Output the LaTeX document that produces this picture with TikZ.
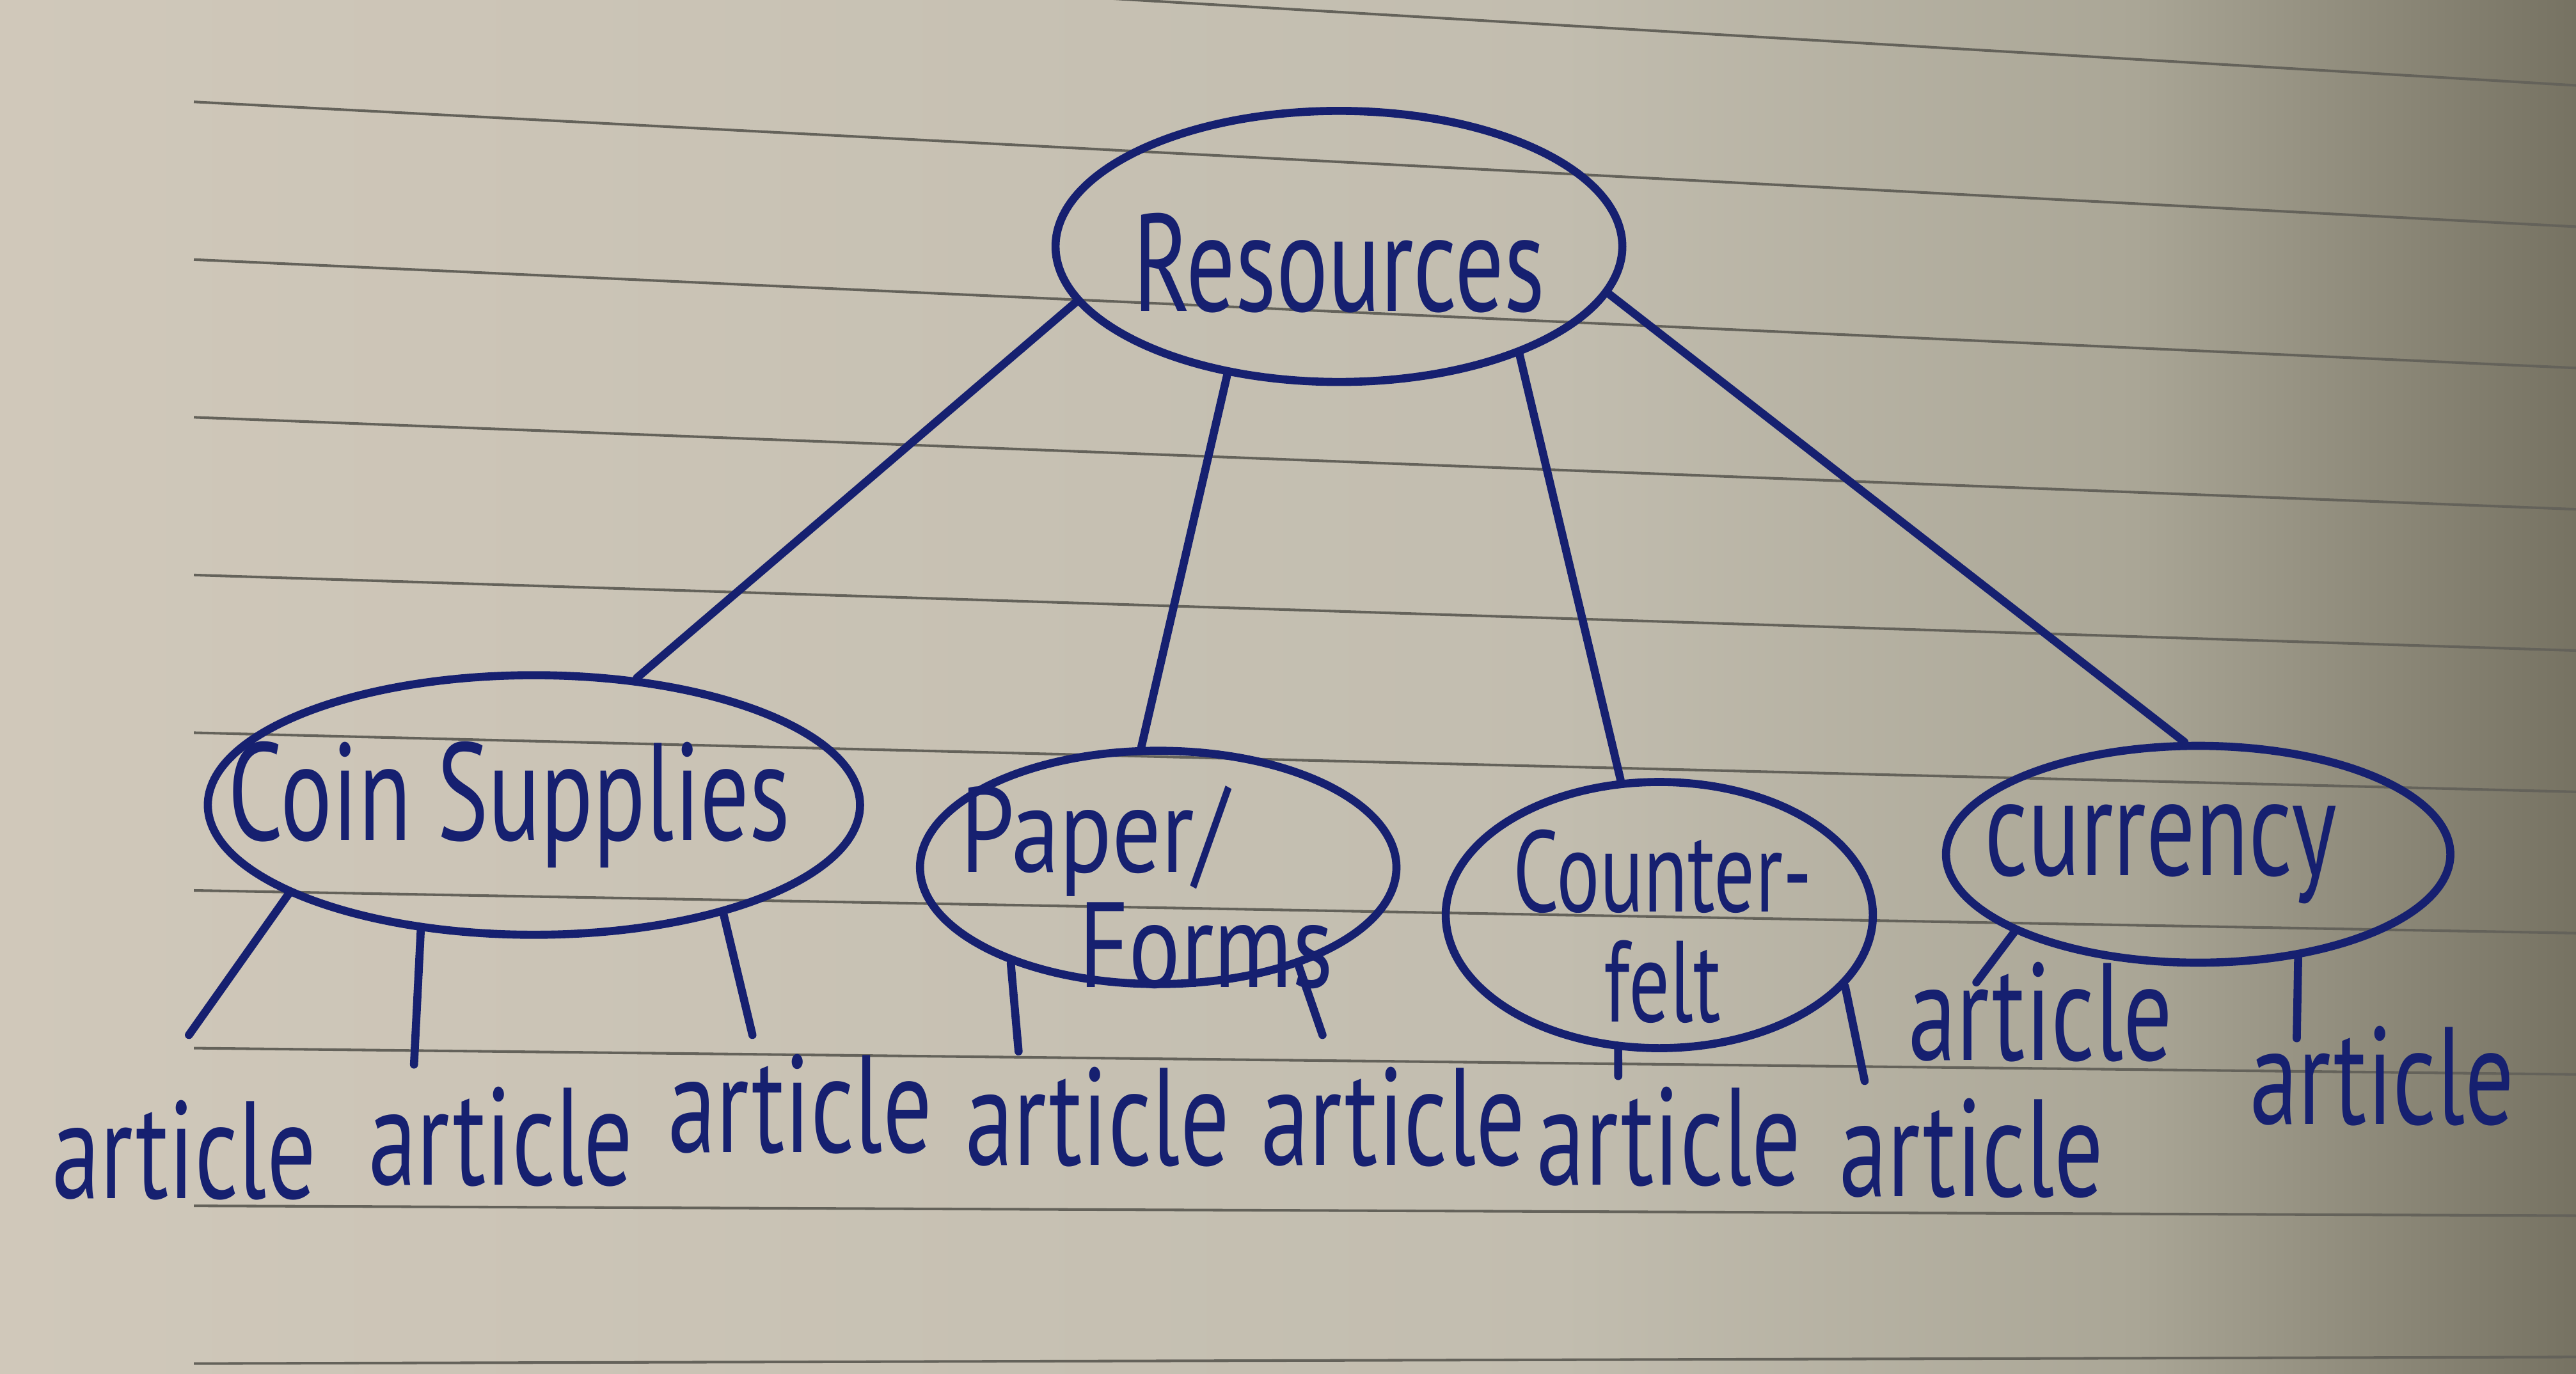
\documentclass[tikz,border=0pt]{standalone}
\usepackage{fontspec}
\usetikzlibrary{shapes.geometric}
\newfontfamily\hand[FakeStretch=0.7]{PT Sans}
\newfontfamily\handw[FakeStretch=0.8]{PT Sans}
\definecolor{ink}{RGB}{22,32,112}
\definecolor{paperA}{RGB}{208,200,186}
\definecolor{paperM}{RGB}{194,189,175}
\definecolor{paperN}{RGB}{170,166,150}
\definecolor{paperB}{RGB}{118,114,98}
\definecolor{rule}{RGB}{100,98,90}
\tikzset{
  bubble/.style={ellipse, draw=ink, line width=1.4pt, inner sep=0pt},
  handtext/.style={text=ink, font=\hand\fontsize{24}{24}\selectfont, inner sep=0pt},
  smalltext/.style={text=ink, font=\hand\fontsize{20}{19}\selectfont, inner sep=0pt},
  link/.style={draw=ink, line width=1.4pt, line cap=round},
  ruling/.style={draw=rule, line width=0.45pt}
}
\begin{document}
\begin{tikzpicture}
\useasboundingbox (0,0) rectangle (15.68,8.36);
\shade[left color=paperA, right color=paperM] (-0.01,0) rectangle (9.51,8.36);
\shade[left color=paperM, right color=paperN] (9.5,0) rectangle (13.01,8.36);
\shade[left color=paperN, right color=paperB] (13,0) rectangle (15.68,8.36);
\begin{scope}
\clip (0,0) rectangle (15.68,8.36);
\foreach \k in {-1,...,8}{
  \draw[ruling] (1.18,{8.36-(62+96*\k)/100}) -- (15.68,{8.36-(138+86*\k)/100});
}
\end{scope}

% nodes
\node[bubble, minimum width=3.45cm, minimum height=1.65cm] (res) at (8.15,6.86) {};
\node[handtext] (restext) at (8.15,6.76) {Resources};
\node[bubble, minimum width=3.97cm, minimum height=1.58cm] (coin) at (3.25,3.46) {};
\node[handtext] (cointext) at (3.10,3.46) {Coin Supplies};
\node[bubble, minimum width=2.90cm, minimum height=1.42cm] (paper) at (7.05,3.08) {};
\node[text=ink, inner sep=0pt, font=\handw\fontsize{21}{17}\selectfont, align=left, anchor=west] (papertext) at (5.84,2.96) {Paper/\\\hspace*{0.72cm}Forms};
\node[bubble, minimum width=2.60cm, minimum height=1.62cm] (cf) at (10.10,2.79) {};
\node[smalltext, align=center] (cftext) at (10.12,2.72) {Counter-\\felt};
\node[bubble, minimum width=3.07cm, minimum height=1.32cm] (cur) at (13.38,3.16) {};
\node[handtext] (curtext) at (13.15,3.16) {currency};

% connectors from Resources
\draw[link] (res.192) -- (coin.51);
\draw[link] (res.229) -- (paper.98);
\draw[link] (res.329) -- (cf.106);
\draw[link] (res.350) -- (cur.97);

% leaf ends
\coordinate (c1) at (1.15,2.06);
\coordinate (c2) at (2.52,1.88);
\coordinate (c3) at (4.58,2.06);
\coordinate (p1) at (6.20,1.96);
\coordinate (p2) at (8.05,2.06);
\coordinate (f1) at (9.85,1.81);
\coordinate (f2) at (11.35,1.78);
\coordinate (u1) at (12.03,2.38);
\coordinate (u2) at (13.98,2.04);

\draw[link] (coin.200) -- (c1);
\draw[link] (coin.228) -- (c2);
\draw[link] (coin.330) -- (c3);
\draw[link] (paper.213) -- (p1);
\draw[link] (paper.325) -- (p2);
\draw[link] (cf.253) -- (f1);
\draw[link] (cf.339.5) -- (f2);
\draw[link] (cur.203.6) -- (u1);
\draw[link] (cur.314) -- (u2);

% leaf labels
\node[handtext] (a1) at (1.12,1.36) {article};
\node[handtext] (a2) at (3.05,1.44) {article};
\node[handtext] (a3) at (4.87,1.64) {article};
\node[handtext] (a4) at (6.68,1.56) {article};
\node[handtext] (a5) at (8.48,1.56) {article};
\node[handtext] (a6) at (10.16,1.44) {article};
\node[handtext] (a7) at (12.00,1.37) {article};
\node[handtext] (a8) at (12.42,2.20) {article};
\node[handtext] (a9) at (14.50,1.81) {article};
\end{tikzpicture}
\end{document}
